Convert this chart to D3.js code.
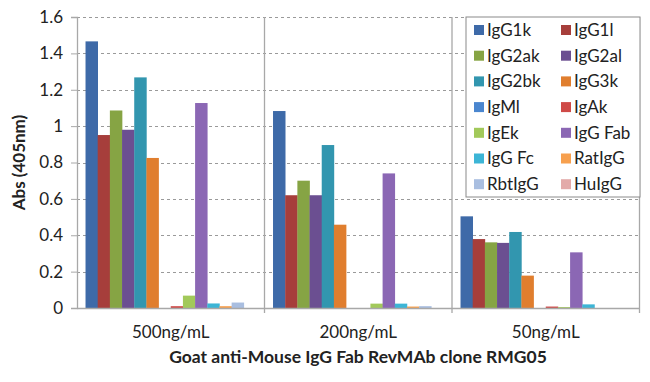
<!DOCTYPE html>
<html>
<head>
<meta charset="utf-8">
<script src="https://cdn.jsdelivr.net/npm/d3@7"></script>
<style>
  body { margin: 0; background: #fff; }
  text { font-family: Lato, "Open Sans", sans-serif; fill: #222; }
</style>
</head>
<body>
<svg id="chart"></svg>
<script>
// concentrations along the x axis
const categories = ['500ng/mL', '200ng/mL', '50ng/mL'];
const series = ['IgG1k', 'IgG1l', 'IgG2ak', 'IgG2al', 'IgG2bk', 'IgG3k', 'IgMl',
    'IgAk', 'IgEk', 'IgG Fab', 'IgG Fc', 'RatIgG', 'RbtIgG', 'HuIgG'];
const colors = ['#3E6AA8', '#A63E3B', '#86A444', '#6B4F91', '#3296AF', '#E07E2E', '#4A86CF',
    '#CF4A47', '#A2C95A', '#8B67B4', '#3CB5D6', '#F7A04E', '#A9BEE0', '#E3AAA9'];
// one row per series, one value per category
const values = [
    [1.466, 1.083, 0.504],
    [0.951, 0.620, 0.379],
    [1.086, 0.700, 0.361],
    [0.980, 0.620, 0.358],
    [1.268, 0.896, 0.418],
    [0.825, 0.458, 0.178],
    [0.000, 0.000, 0.000],
    [0.010, 0.000, 0.008],
    [0.068, 0.024, 0.005],
    [1.127, 0.740, 0.306],
    [0.025, 0.024, 0.020],
    [0.010, 0.008, 0.000],
    [0.030, 0.010, 0.000],
    [0.000, 0.000, 0.000]
];
const yTicks = [0, 0.2, 0.4, 0.6, 0.8, 1, 1.2, 1.4, 1.6];

const width = 650, height = 382;
const margin = { top: 17, right: 10.5, bottom: 74, left: 77 };

const svg = d3.select('#chart').attr('width', width).attr('height', height);

const x0 = d3.scaleBand()
    .domain(categories)
    .range([margin.left, width - margin.right]);
const x1 = d3.scaleBand()
    .domain(series)
    .range([0, x0.bandwidth()])
    .paddingOuter(0.7);
const y = d3.scaleLinear()
    .domain([0, 1.6])
    .range([height - margin.bottom, margin.top]);

// dashed gridlines
svg.append('g')
    .selectAll('line')
    .data(yTicks.slice(1))
    .join('line')
    .attr('x1', margin.left)
    .attr('x2', width - margin.right)
    .attr('y1', d => Math.round(y(d)) + 0.5)
    .attr('y2', d => Math.round(y(d)) + 0.5)
    .attr('stroke', '#9a9a9a')
    .attr('stroke-dasharray', '3,3');

// category divider lines
svg.append('g')
    .selectAll('line')
    .data(categories)
    .join('line')
    .attr('x1', d => x0(d) + x0.bandwidth())
    .attr('x2', d => x0(d) + x0.bandwidth())
    .attr('y1', margin.top)
    .attr('y2', y(0) + 5)
    .attr('stroke', '#a8a8a8')
    .attr('stroke-width', 1.3);

// bars
const groups = svg.append('g')
    .selectAll('g')
    .data(categories)
    .join('g')
    .attr('transform', d => `translate(${x0(d)},0)`);

groups.selectAll('rect')
    .data((d, ci) => series.map((s, si) => ({ s: s, si: si, v: values[si][ci] })))
    .join('rect')
    .attr('x', d => x1(d.s))
    .attr('width', x1.bandwidth() + 0.3)
    .attr('y', d => y(d.v))
    .attr('height', d => y(0) - y(d.v))
    .attr('fill', d => colors[d.si]);

// y axis
const yAxis = svg.append('g')
    .attr('transform', `translate(${margin.left},0)`)
    .call(d3.axisLeft(y).tickValues(yTicks).tickFormat(d => d).tickSize(6).tickPadding(8));
yAxis.select('.domain').attr('stroke', '#a8a8a8').attr('stroke-width', 1.3);
yAxis.selectAll('.tick line').attr('stroke', '#a8a8a8');
yAxis.selectAll('.tick text').style('font-size', '17px').attr('fill', '#222');

// x axis
const xAxis = svg.append('g')
    .attr('transform', `translate(0,${y(0)})`)
    .call(d3.axisBottom(x0).tickSize(0).tickPadding(18));
xAxis.select('.domain').attr('stroke', '#a8a8a8').attr('stroke-width', 1.3);
xAxis.selectAll('.tick text').style('font-size', '17px').attr('fill', '#333');

// axis titles
svg.append('text')
    .attr('transform', `translate(25,${(margin.top + y(0)) / 2}) rotate(-90)`)
    .attr('text-anchor', 'middle')
    .style('font-size', '17px')
    .style('font-weight', 'bold')
    .text('Abs (405nm)');

svg.append('text')
    .attr('x', 358)
    .attr('y', 363)
    .attr('text-anchor', 'middle')
    .style('font-size', '17.5px')
    .style('font-weight', 'bold')
    .text('Goat anti-Mouse IgG Fab RevMAb clone RMG05');

// legend
const legend = svg.append('g').attr('transform', 'translate(466,17)');
legend.append('rect')
    .attr('width', 174)
    .attr('height', 180)
    .attr('fill', '#fff')
    .attr('stroke', '#8a8a8a');

const items = legend.selectAll('g.item')
    .data(series)
    .join('g')
    .attr('class', 'item')
    .attr('transform', (d, i) => `translate(${i % 2 === 0 ? 8 : 95},${13 + Math.floor(i / 2) * 25.7})`);
items.append('rect')
    .attr('y', -5)
    .attr('width', 10)
    .attr('height', 10)
    .attr('fill', (d, i) => colors[i]);
items.append('text')
    .attr('x', 13)
    .attr('dy', '0.35em')
    .style('font-size', '17px')
    .text(d => d);
</script>
</body>
</html>
